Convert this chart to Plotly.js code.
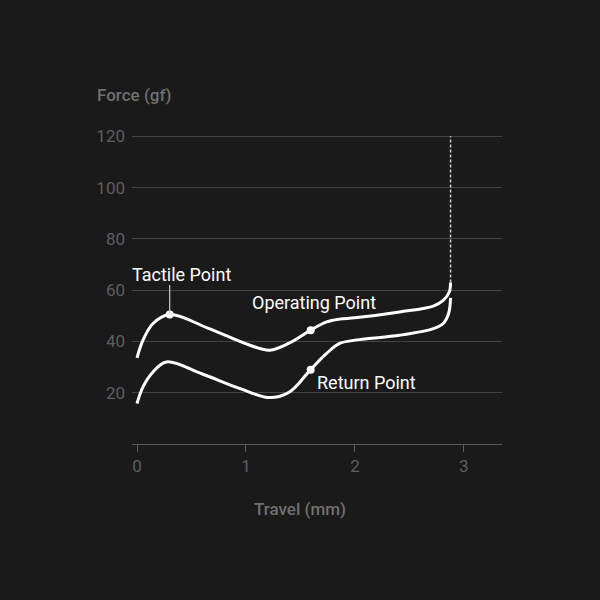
<!DOCTYPE html>
<html>
<head>
<meta charset="utf-8">
<script src="https://cdn.plot.ly/plotly-3.0.1.min.js"></script>
<style>
  html, body { margin: 0; padding: 0; background: #1a1a1a; }
  #chart { width: 600px; height: 600px; }
</style>
</head>
<body>
<div id="chart"></div>
<script>
// 按压曲线 (press) 与回弹曲线 (return)
const pressX = [0, 0.055, 0.147, 0.30, 0.65, 1.03, 1.22, 1.40, 1.594, 1.74, 1.86, 2.0, 2.41, 2.72, 2.81, 2.866, 2.878];
const pressY = [33.6, 40.5, 47, 50.5, 45.2, 38.6, 36.6, 39.4, 44.4, 47.6, 48.7, 49.2, 51.5, 53.8, 56, 59.3, 63];

const returnX = [0, 0.055, 0.147, 0.27, 0.60, 0.94, 1.22, 1.40, 1.594, 1.74, 1.86, 2.04, 2.41, 2.72, 2.81, 2.86, 2.878];
const returnY = [15.8, 22.3, 28.1, 32, 27.3, 21.7, 18.1, 20.3, 29, 35.3, 39.2, 40.7, 42.4, 45, 47, 50.9, 57];

// 关键点
const pointNames = ['Tactile Point', 'Operating Point', 'Return Point'];
const pointX = [0.30, 1.594, 1.594];
const pointY = [50.5, 44.4, 29];

const xTicks = [0, 1, 2, 3];
const yTicks = [20, 40, 60, 80, 100, 120];
const yMax = 120;

const gridColor = '#444444';
const tickColor = '#5f5f5f';

const lastX = pressX[pressX.length - 1];
const lastY = pressY[pressY.length - 1];

const traces = [
    {
        x: pressX, y: pressY,
        type: 'scatter', mode: 'lines',
        line: { color: '#ffffff', width: 3, shape: 'spline', smoothing: 1 },
        hoverinfo: 'none'
    },
    {
        x: returnX, y: returnY,
        type: 'scatter', mode: 'lines',
        line: { color: '#ffffff', width: 3, shape: 'spline', smoothing: 1 },
        hoverinfo: 'none'
    },
    // 行程终点虚线
    {
        x: [lastX, lastX], y: [lastY, yMax],
        type: 'scatter', mode: 'lines',
        line: { color: '#d0d0d0', width: 1.5, dash: '3px,2px' },
        hoverinfo: 'none'
    },
    {
        x: pointX, y: pointY,
        type: 'scatter', mode: 'markers',
        marker: { color: '#ffffff', size: 8 },
        hoverinfo: 'none'
    }
];

const layout = {
    width: 600,
    height: 600,
    paper_bgcolor: '#1a1a1a',
    plot_bgcolor: '#1a1a1a',
    showlegend: false,
    margin: { l: 132, r: 98, t: 135, b: 156 },
    font: { family: 'Roboto, sans-serif', size: 17, color: tickColor },
    xaxis: {
        range: [-0.046, 3.35],
        tickvals: xTicks,
        showgrid: false,
        zeroline: false,
        showline: true,
        linecolor: '#5a5a5a',
        linewidth: 1,
        ticks: 'outside',
        ticklen: 7,
        tickcolor: '#5a5a5a',
        tickfont: { size: 17, color: tickColor }
    },
    yaxis: {
        range: [0, 120.5],
        tickvals: yTicks,
        showgrid: true,
        gridcolor: gridColor,
        gridwidth: 1,
        zeroline: false,
        showline: false,
        ticklabelstandoff: 6,
        tickfont: { size: 17, color: tickColor }
    },
    shapes: [
        {
            type: 'line', xref: 'x', yref: 'y',
            x0: pointX[0], x1: pointX[0], y0: pointY[0], y1: pointY[0] + 11.5,
            line: { color: '#cccccc', width: 1.2 }
        }
    ],
    annotations: [
        { text: 'Force (gf)', xref: 'paper', yref: 'paper', x: -0.1, y: 1.13,
          xanchor: 'left', yanchor: 'middle', showarrow: false,
          font: { size: 17, color: '#707070', weight: 500 } },
        { text: 'Travel (mm)', xref: 'paper', yref: 'paper', x: 0.455, y: -0.21,
          xanchor: 'center', yanchor: 'middle', showarrow: false,
          font: { size: 17, color: '#707070', weight: 500 } },
        { text: pointNames[0], x: -0.04, xshift: -3, y: 66.2, xanchor: 'left', yanchor: 'middle',
          showarrow: false, font: { size: 18, color: '#ffffff' } },
        { text: pointNames[1], x: 1.041, y: 55.3, xanchor: 'left', yanchor: 'middle',
          showarrow: false, font: { size: 18, color: '#ffffff' } },
        { text: pointNames[2], x: 1.631, y: 23.8, xanchor: 'left', yanchor: 'middle',
          showarrow: false, font: { size: 18, color: '#ffffff' } }
    ]
};

Plotly.newPlot('chart', traces, layout, { displayModeBar: false, staticPlot: true });
</script>
</body>
</html>
